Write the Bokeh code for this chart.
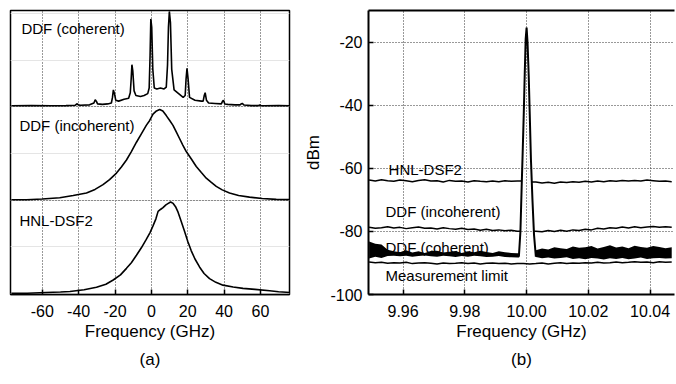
import numpy as np
from bokeh.plotting import figure
from bokeh.layouts import row
from bokeh.models import FixedTicker, Grid, LinearAxis, Title, Label, PrintfTickFormatter
from bokeh.embed import file_html
from bokeh.resources import INLINE

FONT = "Liberation Sans"

# ---------------- panel (a): normalised spectra, stacked ----------------
a_ticks = [-60, -40, -20, 0, 20, 40, 60]
a_offsets = [2, 1, 0]          # coherent, incoherent, HNL-DSF2
a_names = ["DDF (coherent)", "DDF (incoherent)", "HNL-DSF2"]

coh_f = [-77, -66, -55, -47, -42, -40.8, -40.2, -39, -34, -31.6, -30.9, -30.3, -29.6, -27,
         -24, -22, -21.4, -20.9, -20.3, -19.6, -18, -15, -12.5, -11.6, -11.1, -10.7, -10.2,
         -9.5, -8.5, -6, -4, -2, -1.2, -0.7, -0.3, 0.2, 0.8, 1.6, 3, 5, 7, 8.2, 8.9, 9.4,
         9.9, 10.5, 11.2, 12.5, 15, 17.5, 18.6, 19.1, 19.6, 20.2, 21, 24, 27.5, 28.5, 29.1,
         29.6, 30.3, 31.5, 35, 38.5, 39.2, 39.7, 40.4, 42, 46, 48.8, 49.4, 50, 51, 55, 59,
         59.7, 60.3, 62, 70, 77]
coh_h = [0.01, 0.012, 0.01, 0.012, 0.015, 0.032, 0.02, 0.015, 0.02, 0.04, 0.075, 0.06, 0.03,
         0.025, 0.03, 0.04, 0.1, 0.18, 0.14, 0.07, 0.06, 0.08, 0.09, 0.15, 0.3, 0.45, 0.38,
         0.17, 0.12, 0.11, 0.12, 0.14, 0.2, 0.55, 0.94, 0.85, 0.4, 0.2, 0.19, 0.2, 0.19, 0.21,
         0.45, 0.85, 1.02, 0.9, 0.4, 0.18, 0.14, 0.1, 0.12, 0.3, 0.41, 0.3, 0.1, 0.07, 0.06,
         0.06, 0.12, 0.15, 0.07, 0.04, 0.035, 0.03, 0.06, 0.07, 0.03, 0.025, 0.02, 0.02, 0.03,
         0.035, 0.018, 0.012, 0.012, 0.02, 0.012, 0.01, 0.012, 0.01]

inc_f = [-77, -68.7, -60, -50.4, -43, -35.7, -31, -26.6, -23, -19.2, -16.5, -13.7, -11, -8.2,
         -5.5, -2.8, -1, 0.9, 2.8, 4.6, 6.3, 8.2, 10, 11.9, 13.7, 15.5, 17.3, 19.2, 22, 24.7,
         27.5, 30.2, 33, 35.7, 39, 43, 48, 54, 61, 68.7, 77]
inc_h = [0.005, 0.005, 0.012, 0.025, 0.05, 0.077, 0.115, 0.166, 0.22, 0.29, 0.355, 0.43, 0.52,
         0.62, 0.71, 0.8, 0.85, 0.92, 0.955, 0.97, 0.955, 0.905, 0.855, 0.8, 0.73, 0.66, 0.59,
         0.52, 0.44, 0.36, 0.295, 0.235, 0.19, 0.148, 0.11, 0.077, 0.05, 0.032, 0.018, 0.008,
         0.005]

hnl_f = [-77, -68.3, -58, -50, -44.8, -37, -30.2, -25, -21, -17, -13.7, -11, -8.2, -5.5, -2.8,
         -0.8, 0.9, 2.5, 3.7, 5, 6.4, 8, 9.3, 10.6, 12, 13.3, 14.5, 16.3, 18.2, 20, 21.9, 24,
         26.5, 29, 32, 35.5, 39.4, 45, 50.4, 57, 65.1, 70, 77]
hnl_h = [0.004, 0.004, 0.012, 0.017, 0.022, 0.04, 0.067, 0.1, 0.145, 0.2, 0.27, 0.33, 0.41,
         0.49, 0.58, 0.65, 0.725, 0.8, 0.88, 0.9, 0.92, 0.95, 0.965, 0.98, 0.965, 0.93, 0.88,
         0.78, 0.67, 0.56, 0.46, 0.37, 0.285, 0.215, 0.16, 0.12, 0.09, 0.07, 0.056, 0.045,
         0.03, 0.02, 0.01]

# ---------------- panel (b): RF spectra (dBm) ----------------
b_xticks = [9.96, 9.98, 10.00, 10.02, 10.04]
b_yticks = [-100, -80, -60, -40, -20]

b_left_f = [9.949, 9.951, 9.953, 9.955, 9.957, 9.959, 9.961, 9.963, 9.965, 9.967, 9.969,
            9.971, 9.973, 9.975, 9.977, 9.979, 9.981, 9.983, 9.985, 9.987, 9.989, 9.991,
            9.993, 9.995, 9.997]
b_right_f = [10.003, 10.005, 10.007, 10.009, 10.011, 10.013, 10.015, 10.017, 10.019, 10.021,
             10.023, 10.025, 10.027, 10.029, 10.031, 10.033, 10.035, 10.037, 10.039, 10.041,
             10.043, 10.045, 10.047]

hnl_left = [-63.7, -64.0, -63.6, -63.9, -64.1, -63.7, -63.9, -64.2, -63.8, -63.6, -64.0, -63.9,
            -64.3, -63.8, -64.1, -64.0, -64.3, -63.9, -64.1, -64.2, -64.0, -64.2, -63.9, -64.1,
            -64.0]
hnl_right = [-64.3, -64.6, -64.4, -64.7, -64.3, -64.5, -64.2, -64.4, -64.1, -64.3, -64.0, -64.2,
             -63.9, -64.1, -63.8, -64.0, -63.8, -64.0, -63.7, -63.9, -64.1, -64.0, -64.2]
hnl_edges = [9.9985, 10.0017]

inc_left = [-78.7, -79.0, -78.8, -78.5, -78.9, -78.7, -79.1, -78.8, -78.6, -79.0, -78.9, -79.2,
            -78.8, -79.1, -79.3, -79.0, -79.4, -79.2, -79.6, -79.3, -79.7, -79.5, -79.8, -79.6,
            -79.9]
inc_right = [-79.9, -80.1, -79.7, -80.0, -79.6, -79.9, -79.5, -79.7, -79.3, -79.5, -79.0, -79.2,
             -78.8, -79.0, -78.6, -78.9, -78.5, -78.8, -78.6, -78.4, -78.7, -78.5, -78.7]
inc_edges = [9.9980, 10.0023]

coh_left_hi = [-83.2, -83.9, -84.1, -85.8, -86.3, -86.6, -86.0, -86.7, -86.3, -86.8, -86.2,
               -86.1, -86.7, -86.4, -86.2, -86.8, -86.3, -86.6, -86.1, -86.5, -86.8, -86.3,
               -86.6, -86.8, -86.9]
coh_left_lo = [-88.6, -88.0, -88.4, -87.8, -87.7, -87.9, -87.7, -88.0, -87.8, -87.6, -87.9,
               -88.0, -87.7, -87.9, -88.1, -87.8, -88.0, -87.7, -87.9, -88.1, -88.0, -87.8,
               -88.1, -88.2, -88.3]
coh_right_hi = [-86.0, -85.4, -85.7, -85.0, -85.3, -85.6, -84.8, -85.2, -85.0, -84.6, -85.4,
                -84.9, -84.4, -85.1, -84.8, -85.3, -84.5, -84.9, -85.2, -84.6, -84.9, -85.3,
                -85.0]
coh_right_lo = [-88.1, -88.5, -88.3, -88.6, -88.4, -88.2, -88.7, -88.5, -88.8, -88.4, -88.6,
                -88.9, -88.5, -88.7, -88.4, -88.8, -88.6, -88.3, -88.7, -88.5, -88.4, -88.6,
                -88.5]
coh_edges = [9.9976, 10.0029]

meas_left = [-89.7, -89.9, -89.8, -90.1, -89.9, -90.0, -89.8, -90.2, -90.0, -89.9, -90.1, -90.3,
             -90.0, -90.2, -90.1, -89.9, -90.2, -90.0, -90.3, -90.1, -90.0, -90.2, -90.1, -90.3,
             -90.2]
meas_mid_f = [9.999, 10.001]
meas_mid = [-90.2, -90.3]
meas_right = [-90.2, -90.0, -90.3, -90.1, -89.9, -90.2, -90.0, -90.1, -89.9, -90.0, -89.8, -90.0,
              -89.9, -89.7, -89.9, -89.8, -89.6, -89.8, -89.7, -89.9, -89.6, -89.8, -89.7]

peak_f = [9.9975, 9.9980, 9.9984, 9.9987, 9.9991, 9.9994, 9.9997, 10.0000, 10.0003, 10.0007,
          10.0010, 10.0014, 10.0019, 10.0024, 10.0030]
peak_db = [-88, -80, -66, -56, -42, -30, -19, -15.3, -20, -31, -42, -57, -70, -81, -88]

b_names = ["HNL-DSF2", "DDF (incoherent)", "DDF (coherent)", "Measurement limit"]

GRID = dict(grid_line_color="#333333", grid_line_dash="1 2", grid_line_width=1)


def style_axis(ax, font_size="16px"):
    ax.major_tick_in = 5
    ax.major_tick_out = 0
    ax.minor_tick_line_color = None
    ax.major_tick_line_width = 1.5
    ax.major_tick_line_color = "black"
    ax.axis_line_color = "black"
    ax.major_label_text_font = FONT
    ax.major_label_text_font_size = font_size
    ax.major_label_text_color = "black"
    ax.axis_label_text_font = FONT
    ax.axis_label_text_font_size = "17px"
    ax.axis_label_text_font_style = "normal"
    ax.axis_label_text_color = "black"


# ================= panel (a) =================
pa = figure(width=298, height=376, x_range=(-77.5, 76), y_range=(-0.01, 3.03),
            y_axis_location=None, output_backend="svg", toolbar_location=None,
            min_border_left=10, min_border_right=9, min_border_top=10, min_border_bottom=82)
pa.outline_line_color = "black"
pa.outline_line_width = 1.5
pa.background_fill_color = "white"
pa.border_fill_color = "white"

pa.xaxis.ticker = FixedTicker(ticks=a_ticks)
pa.xaxis.formatter = PrintfTickFormatter(format="%d")
pa.xaxis.axis_label = "Frequency (GHz)"
style_axis(pa.xaxis[0])
pa.xaxis.axis_line_width = 1.5
pa.xaxis.major_label_standoff = 10
pa.xaxis.axis_label_standoff = 2
for k, v in GRID.items():
    setattr(pa.xgrid[0], k, v)
pa.add_layout(Grid(dimension=1, ticker=FixedTicker(ticks=[1, 2]), **GRID))

for f, h, off in [(coh_f, coh_h, a_offsets[0]), (inc_f, inc_h, a_offsets[1]),
                  (hnl_f, hnl_h, a_offsets[2])]:
    pa.line(f, np.array(h) + off, line_color="black", line_width=1.6)

for name, (lx, ly) in zip(a_names, [(-71.5, 2.835), (-72.6, 1.80), (-72.6, 0.78)]):
    pa.add_layout(Label(x=lx, y=ly, text=name, text_baseline="middle", text_align="left",
                        text_font=FONT, text_font_size="15px", text_color="black"))

pa.add_layout(Title(text="(a)", align="center", text_font=FONT, text_font_size="17px",
                    text_font_style="normal", text_color="black", standoff=9), "below")

# ================= panel (b) =================
pb = figure(width=378, height=376, x_range=(9.9488, 10.0479), y_range=(-100, -9.9),
            output_backend="svg", toolbar_location=None,
            min_border_left=70, min_border_right=2, min_border_top=9, min_border_bottom=82)
pb.outline_line_color = None
pb.background_fill_color = "white"
pb.border_fill_color = "white"

pb.xaxis.ticker = FixedTicker(ticks=b_xticks)
pb.xaxis.formatter = PrintfTickFormatter(format="%.2f")
pb.xaxis.axis_label = "Frequency (GHz)"
pb.yaxis.ticker = FixedTicker(ticks=b_yticks)
pb.yaxis.formatter = PrintfTickFormatter(format="%d")
pb.yaxis.axis_label = "dBm"
style_axis(pb.xaxis[0])
style_axis(pb.yaxis[0])
pb.xaxis.axis_line_width = 2
pb.yaxis.axis_line_width = 2
pb.xaxis.major_label_standoff = 10
pb.xaxis.axis_label_standoff = 2
pb.yaxis.major_label_standoff = 6
pb.yaxis.axis_label_standoff = 4
for g in (pb.xgrid[0], pb.ygrid[0]):
    for k, v in GRID.items():
        setattr(g, k, v)

top = LinearAxis(ticker=FixedTicker(ticks=[]), major_label_text_font_size="0px",
                 major_tick_in=0, major_tick_out=0, minor_tick_in=0, minor_tick_out=0,
                 major_label_standoff=0, axis_line_width=2, axis_line_color="black")
pb.add_layout(top, "above")

# thin traces split by the 10 GHz beat tone
for left, right, edges in [(hnl_left, hnl_right, hnl_edges), (inc_left, inc_right, inc_edges)]:
    pb.line(b_left_f + [edges[0]], left + [left[-1]], line_color="black", line_width=1.5)
    pb.line([edges[1]] + b_right_f, [right[0]] + right, line_color="black", line_width=1.5)

# noisy coherent trace as a filled noise band
pb.varea(x=b_left_f + [coh_edges[0]], y1=coh_left_lo + [coh_left_lo[-1]],
         y2=coh_left_hi + [coh_left_hi[-1]], fill_color="black")
pb.varea(x=[coh_edges[1]] + b_right_f, y1=[coh_right_lo[0]] + coh_right_lo,
         y2=[coh_right_hi[0]] + coh_right_hi, fill_color="black")

# measurement limit
pb.line(b_left_f + meas_mid_f + b_right_f, meas_left + meas_mid + meas_right,
        line_color="black", line_width=1.5)

# beat tone peak
pb.line(peak_f, peak_db, line_color="black", line_width=2)

for name, (lx, ly) in zip(b_names, [(9.9553, -60.5), (9.9543, -73.8), (9.9543, -85.1),
                                     (9.9543, -94.0)]):
    pb.add_layout(Label(x=lx, y=ly, text=name, text_baseline="middle", text_align="left",
                        text_font=FONT, text_font_size="15px", text_color="black"))

pb.add_layout(Title(text="(b)", align="center", text_font=FONT, text_font_size="17px",
                    text_font_style="normal", text_color="black", standoff=9), "below")

layout = row(pa, pb)
open("out.html", "w").write(file_html(layout, INLINE))
